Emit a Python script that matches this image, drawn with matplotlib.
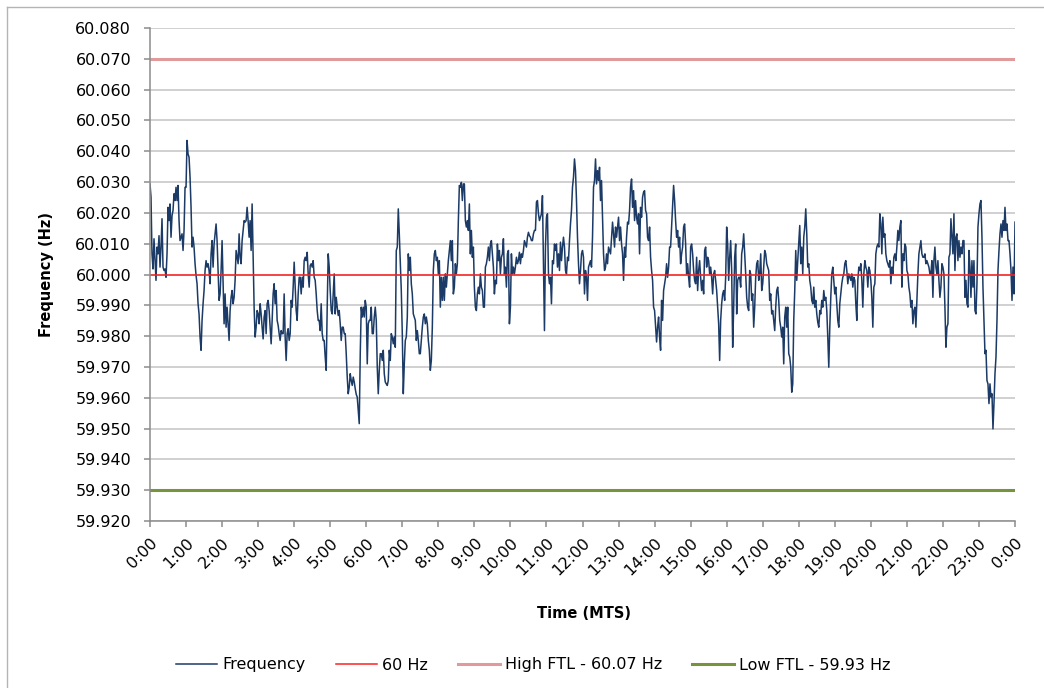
import matplotlib
matplotlib.use("Agg")
import matplotlib.pyplot as plt
import numpy as np
from matplotlib.lines import Line2D

plt.rcParams['font.family'] = ['DejaVu Sans']

# frequency readings, one every 100 s over the day
freq_00_04 = [
    60.0294, 60.0251, 60.0067, 60.0018, 60.0116, 60.0045, 59.9981, 60.0089, 60.0067, 60.0126,
    60.0024, 60.0089, 60.0181, 60.0024, 60.0013, 60.0018, 59.9991, 60.0067, 60.0218, 60.0175,
    60.0229, 60.0121, 60.0191, 60.0208, 60.0262, 60.0240, 60.0283, 60.0240, 60.0289, 60.0175,
    60.0110, 60.0121, 60.0132, 60.0078, 60.0143, 60.0283, 60.0283, 60.0435, 60.0391, 60.0381,
    60.0316, 60.0218, 60.0089, 60.0121, 60.0089, 60.0035, 59.9997, 59.9970, 59.9905, 59.9872,
    59.9797, 59.9754, 59.9851, 59.9905, 59.9948, 60.0013, 60.0045, 60.0024, 60.0035, 60.0013,
    59.9970, 60.0067, 60.0110, 60.0024, 60.0099, 60.0132, 60.0164, 60.0110, 60.0013, 59.9916,
    59.9937, 60.0013, 60.0110, 59.9970, 59.9840, 59.9937, 59.9829, 59.9894, 59.9840, 59.9786,
    59.9883, 59.9926, 59.9948, 59.9905, 59.9926, 59.9981, 60.0078, 60.0056, 60.0035, 60.0132,
    60.0056, 60.0035, 60.0110, 60.0143, 60.0175, 60.0170, 60.0175, 60.0218, 60.0175, 60.0121,
    60.0175, 60.0078, 60.0229, 60.0067, 59.9894, 59.9797, 59.9829, 59.9883, 59.9872, 59.9840,
    59.9905, 59.9872, 59.9829, 59.9791, 59.9862, 59.9883, 59.9808, 59.9905, 59.9916, 59.9883,
    59.9829, 59.9775, 59.9851, 59.9937, 59.9970, 59.9905, 59.9948, 59.9851, 59.9835, 59.9808,
    59.9786, 59.9818, 59.9808, 59.9808, 59.9937, 59.9797, 59.9721, 59.9808, 59.9824, 59.9786,
    59.9808, 59.9916, 59.9894, 59.9959, 60.0040, 59.9959, 59.9883, 59.9851, 59.9937,
]
freq_04_08 = [
    59.9991, 59.9991, 59.9937, 59.9991, 59.9959, 60.0045, 60.0056, 60.0045, 60.0072, 60.0002,
    59.9959, 60.0029, 60.0035, 60.0024, 60.0045, 59.9991, 59.9981, 59.9937, 59.9883, 59.9851,
    59.9851, 59.9818, 59.9905, 59.9808, 59.9786, 59.9786, 59.9732, 59.9689, 59.9894, 60.0067,
    60.0024, 59.9948, 59.9883, 59.9872, 59.9937, 60.0002, 59.9872, 59.9926, 59.9894, 59.9867,
    59.9883, 59.9840, 59.9786, 59.9829, 59.9829, 59.9808, 59.9808, 59.9743, 59.9667, 59.9613,
    59.9635, 59.9678, 59.9656, 59.9640, 59.9667, 59.9651, 59.9629, 59.9611, 59.9602, 59.9559,
    59.9516, 59.9743, 59.9894, 59.9862, 59.9894, 59.9862, 59.9916, 59.9894, 59.9710, 59.9840,
    59.9851, 59.9851, 59.9894, 59.9808, 59.9808, 59.9862, 59.9894, 59.9851, 59.9699, 59.9613,
    59.9689, 59.9743, 59.9743, 59.9721, 59.9754, 59.9678, 59.9651, 59.9645, 59.9640, 59.9656,
    59.9754, 59.9721, 59.9808, 59.9797, 59.9775, 59.9797, 59.9764, 60.0078, 60.0089, 60.0213,
    60.0132, 60.0035, 59.9948, 59.9808, 59.9613, 59.9710, 59.9786, 59.9797, 59.9862, 60.0067,
    60.0013, 60.0056, 59.9970, 59.9937, 59.9872, 59.9862, 59.9851, 59.9786, 59.9818, 59.9786,
    59.9743, 59.9743, 59.9786, 59.9829, 59.9862, 59.9872, 59.9840, 59.9862, 59.9840, 59.9786,
    59.9754, 59.9689, 59.9721, 59.9829, 60.0013, 60.0067, 60.0078, 60.0045, 60.0056, 60.0002,
]
freq_08_12 = [
    60.0045, 59.9894, 59.9991, 59.9916, 59.9991, 59.9916, 60.0002, 59.9959, 60.0002, 60.0045,
    60.0078, 60.0110, 60.0045, 60.0110, 59.9937, 59.9959, 60.0035, 60.0002, 60.0035, 60.0175,
    60.0289, 60.0283, 60.0299, 60.0240, 60.0294, 60.0294, 60.0175, 60.0154, 60.0175, 60.0143,
    60.0229, 60.0067, 60.0143, 60.0056, 60.0089, 59.9959, 59.9894, 59.9883, 59.9937, 59.9959,
    59.9937, 60.0002, 59.9959, 59.9948, 59.9894, 59.9894, 60.0024, 60.0035, 60.0056, 60.0089,
    60.0045, 60.0099, 60.0110, 60.0067, 60.0024, 59.9937, 59.9981, 59.9970, 60.0099, 60.0045,
    60.0078, 60.0002, 60.0056, 60.0067, 60.0116, 60.0002, 60.0024, 59.9959, 60.0067, 60.0078,
    59.9840, 59.9894, 60.0067, 60.0002, 60.0024, 60.0002, 60.0024, 60.0056, 60.0035, 60.0045,
    60.0072, 60.0035, 60.0067, 60.0056, 60.0078, 60.0110, 60.0099, 60.0089, 60.0121, 60.0137,
    60.0126, 60.0121, 60.0110, 60.0110, 60.0132, 60.0143, 60.0143, 60.0235, 60.0240, 60.0197,
    60.0175, 60.0186, 60.0197, 60.0256, 60.0045, 59.9818, 60.0089, 60.0186, 60.0197, 60.0002,
    59.9970, 59.9991, 59.9905, 60.0045, 60.0035, 60.0099, 60.0078, 60.0099, 60.0024, 60.0067,
    60.0013, 60.0105, 60.0045, 60.0089, 60.0121, 60.0089, 60.0013, 60.0002, 60.0056, 60.0045,
    60.0110, 60.0164, 60.0208, 60.0283, 60.0316, 60.0375, 60.0337, 60.0240, 60.0121, 60.0035,
    59.9970, 60.0013, 60.0067, 60.0078, 60.0056, 59.9937, 60.0013, 59.9991, 59.9916, 60.0024,
]
freq_12_16 = [
    60.0035, 60.0045, 60.0024, 60.0121, 60.0283, 60.0305, 60.0375, 60.0294, 60.0337, 60.0305,
    60.0348, 60.0240, 60.0305, 60.0186, 60.0067, 60.0013, 60.0024, 60.0067, 60.0035, 60.0089,
    60.0078, 60.0067, 60.0121, 60.0170, 60.0132, 60.0089, 60.0154, 60.0121, 60.0154, 60.0186,
    60.0110, 60.0154, 60.0099, 60.0067, 59.9981, 60.0089, 60.0056, 60.0121, 60.0170, 60.0164,
    60.0208, 60.0283, 60.0310, 60.0218, 60.0272, 60.0175, 60.0240, 60.0186, 60.0164, 60.0197,
    60.0067, 60.0218, 60.0186, 60.0251, 60.0267, 60.0272, 60.0208, 60.0197, 60.0121, 60.0110,
    60.0154, 60.0056, 60.0013, 59.9981, 59.9894, 59.9883, 59.9829, 59.9781, 59.9829, 59.9862,
    59.9797, 59.9754, 59.9916, 59.9851, 59.9948, 59.9970, 59.9991, 60.0035, 59.9991, 60.0024,
    60.0089, 60.0089, 60.0154, 60.0218, 60.0289, 60.0240, 60.0175, 60.0121, 60.0143, 60.0089,
    60.0121, 60.0035, 60.0067, 60.0089, 60.0154, 60.0164, 60.0099, 60.0002, 60.0035, 59.9991,
    59.9959, 60.0089, 60.0099, 60.0067, 60.0013, 59.9981, 59.9970, 60.0056, 59.9948, 60.0013,
    60.0045, 59.9991, 59.9948, 59.9981, 59.9937, 60.0078, 60.0089, 60.0024, 60.0056, 60.0045,
    60.0002, 60.0024, 59.9991, 59.9937, 60.0002, 60.0013, 59.9981, 59.9948, 59.9894, 59.9840,
    59.9721, 59.9851, 59.9905, 59.9937, 59.9948, 59.9916, 59.9991, 60.0154, 60.0099, 59.9981,
    60.0056, 60.0110, 60.0013, 59.9764, 59.9894, 60.0056, 60.0099, 59.9872, 59.9981, 59.9991,
]
freq_16_20 = [
    59.9991, 59.9959, 60.0067, 60.0089, 60.0132, 60.0067, 60.0002, 59.9926, 59.9894, 59.9883,
    60.0013, 60.0002, 59.9916, 59.9937, 59.9829, 59.9894, 59.9991, 60.0035, 60.0045, 59.9981,
    60.0002, 60.0067, 59.9948, 59.9970, 60.0024, 60.0078, 60.0067, 60.0035, 60.0024, 60.0013,
    59.9916, 59.9937, 59.9872, 59.9883, 59.9851, 59.9818, 59.9894, 59.9948, 59.9959, 59.9916,
    59.9851, 59.9829, 59.9797, 59.9829, 59.9710, 59.9862, 59.9894, 59.9829, 59.9894, 59.9743,
    59.9732, 59.9699, 59.9618, 59.9645, 59.9851, 59.9948, 60.0078, 59.9981, 60.0045, 60.0099,
    60.0159, 60.0035, 60.0089, 60.0002, 60.0121, 60.0154, 60.0213, 60.0132, 60.0024, 60.0035,
    59.9981, 59.9959, 59.9916, 59.9905, 59.9959, 59.9894, 59.9916, 59.9872, 59.9845, 59.9829,
    59.9883, 59.9872, 59.9916, 59.9894, 59.9948, 59.9916, 59.9926, 59.9883, 59.9797, 59.9699,
    59.9829, 59.9926, 60.0002, 60.0024, 59.9981, 59.9937, 59.9959, 59.9905, 59.9851, 59.9829,
    59.9905, 59.9937, 59.9970, 59.9991, 60.0002, 60.0035, 60.0045, 60.0013, 59.9970, 60.0002,
    59.9991, 59.9981, 60.0002, 59.9959, 59.9991, 59.9981, 59.9905, 59.9851, 59.9981, 60.0024,
    60.0013, 60.0035, 59.9981, 59.9894, 60.0002, 60.0045, 60.0024, 60.0013, 59.9959, 60.0024,
    60.0013, 59.9981, 59.9926, 59.9829, 59.9959, 59.9970, 60.0067, 60.0089, 60.0099, 60.0089,
]
freq_20_24 = [
    60.0197, 60.0164, 60.0067, 60.0186, 60.0121, 60.0132, 60.0067, 60.0045, 60.0035, 60.0024,
    60.0045, 59.9970, 60.0024, 60.0002, 60.0056, 60.0067, 60.0045, 60.0089, 60.0143, 60.0110,
    60.0154, 60.0175, 59.9959, 60.0067, 60.0045, 60.0099, 60.0089, 60.0013, 60.0002, 59.9959,
    59.9937, 59.9894, 59.9916, 59.9840, 59.9883, 59.9894, 59.9829, 59.9916, 60.0002, 60.0067,
    60.0089, 60.0110, 60.0067, 60.0056, 60.0056, 60.0067, 60.0035, 60.0045, 60.0035, 60.0024,
    60.0002, 60.0002, 60.0045, 59.9926, 60.0045, 60.0089, 60.0024, 60.0002, 60.0045, 59.9981,
    59.9926, 59.9959, 60.0035, 60.0024, 60.0002, 59.9894, 59.9764, 59.9829, 59.9840, 60.0056,
    60.0067, 60.0181, 60.0121, 60.0067, 60.0197, 60.0013, 60.0121, 60.0132, 60.0045, 60.0110,
    60.0056, 60.0089, 60.0067, 60.0110, 60.0110, 59.9926, 59.9981, 59.9905, 59.9894, 60.0078,
    60.0024, 59.9926, 60.0045, 59.9959, 60.0045, 59.9883, 59.9872, 59.9970, 60.0154, 60.0197,
    60.0229, 60.0240, 60.0121, 59.9959, 59.9851, 59.9743, 59.9754, 59.9656, 59.9645, 59.9581,
    59.9645, 59.9602, 59.9613, 59.9499, 59.9581, 59.9678, 59.9732, 59.9851, 60.0013, 60.0078,
    60.0132, 60.0164, 60.0121, 60.0175, 60.0143, 60.0218, 60.0143, 60.0164, 60.0110, 60.0110,
    60.0067, 60.0013, 59.9916, 60.0024, 59.9937, 60.0170,
]

nominal_hz = 60.0
high_ftl = 60.07
low_ftl = 59.93
hour_labels = ['%d:00' % (h % 24) for h in range(25)]

freq = np.array(freq_00_04 + freq_04_08 + freq_08_12 + freq_12_16 + freq_16_20 + freq_20_24)
hours = np.linspace(0, 24, len(freq))

W, H = 1044, 688
fig = plt.figure(figsize=(W / 100, H / 100), dpi=100)
ax = fig.add_axes([150 / W, 1 - 521 / H, 865 / W, 493 / H])

ax.plot(hours, freq, color='#1b3a66', lw=1.1, label='Frequency')
ax.axhline(nominal_hz, color='#ff2020', lw=1.1, label='60 Hz')
ax.axhline(high_ftl, color='#e09a9b', lw=2.2, label='High FTL - 60.07 Hz')
ax.axhline(low_ftl, color='#77933c', lw=2.2, label='Low FTL - 59.93 Hz')

ax.set_xlim(0, 24)
ax.set_ylim(59.92, 60.08)
ax.set_yticks(np.arange(59.92, 60.0801, 0.01))
ax.yaxis.set_major_formatter(matplotlib.ticker.FormatStrFormatter('%.3f'))
ax.set_xticks(range(25))
ax.set_xticklabels(hour_labels, rotation=45, ha='right', va='top', rotation_mode='anchor')

ax.grid(axis='y', color='#c4c4c4', lw=1.1)
ax.set_axisbelow(True)
for s in ['top', 'right']:
    ax.spines[s].set_visible(False)
for s in ['left', 'bottom']:
    ax.spines[s].set_color('#8c8c8c')
    ax.spines[s].set_linewidth(1.1)
ax.tick_params(axis='y', length=4.5, color='#8c8c8c', width=1.1, pad=9, labelsize=11.5)
ax.tick_params(axis='x', length=4, color='#8c8c8c', width=1.1, pad=6, labelsize=11.5)

fig.text(47 / W, 1 - 275 / H, 'Frequency (Hz)', rotation=90, ha='center', va='center',
         fontsize=10.5, fontweight='bold')
fig.text(584 / W, 1 - 613 / H, 'Time (MTS)', ha='center', va='center',
         fontsize=10.5, fontweight='bold')

fig.legend(loc='center', bbox_to_anchor=(533 / W, 1 - 665 / H), ncol=4, frameon=False,
           fontsize=11.5, handlelength=2.6, handletextpad=0.3, columnspacing=1.9)

# chart area border (left / top edges visible)
fig.add_artist(Line2D([7 / W, 7 / W], [0, 1 - 7 / H], color='#b4b4b4', lw=1))
fig.add_artist(Line2D([7 / W, 1], [1 - 7 / H, 1 - 7 / H], color='#b4b4b4', lw=1))

fig.savefig('out.png', dpi=100)
